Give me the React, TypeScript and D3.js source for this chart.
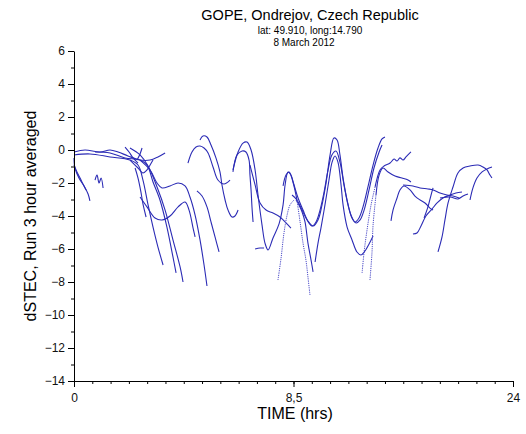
import React, { useEffect, useRef } from 'react'
import * as d3 from 'd3'

// ticks
const yMajor = [-14, -12, -10, -8, -6, -4, -2, 0, 2, 4, 6]
const yMinor = d3.range(-13, 6, 2)
const xMajor = [0, 12, 24]
const xMajorLabels = ['0', '8,5', '24']
const xMinor = d3.range(1, 24)

// satellite tracks: [time (hrs), dSTEC]
const track01 = [[0, -0.48], [0.05, -1.09], [0.27, -1.7], [0.55, -2.18], [0.77, -2.67], [0.87, -3.09]]
const track02 = [[0, -0.91], [0.16, -1.33], [0.33, -1.7], [0.49, -2.06], [0.66, -2.42]]
const track03 = [[1.15, -1.82], [1.26, -1.52], [1.37, -2.0], [1.48, -1.7], [1.59, -2.3]]
const track04 = [[0, -0.3], [0.87, -0.24], [1.97, -0.42], [3.06, -0.61], [3.5, -0.91], [3.77, -1.82], [4.05, -3.33], [4.32, -4.67], [4.59, -5.88], [4.87, -6.97]]
const track05 = [[1.15, -0.12], [1.97, -0.18], [2.79, -0.48], [3.61, -0.61], [3.99, -0.91], [4.32, -1.94], [4.7, -3.03], [5.08, -4.67], [5.41, -6.48], [5.58, -7.45]]
const track06 = [[3.06, 0.12], [3.61, -0.3], [4.05, -0.97], [4.54, -2.24], [4.98, -3.64], [5.41, -5.45], [5.8, -7.09], [5.96, -8.0]]
const track07 = [[3.61, -0.61], [4.16, -1.21], [4.54, -2.0], [4.81, -2.3], [5.25, -2.18], [5.69, -2.0], [6.07, -2.18], [6.34, -2.85], [6.62, -3.94], [6.89, -5.45], [7.11, -6.97], [7.27, -8.24]]
const track08 = [[3.61, -2.85], [3.99, -3.45], [4.43, -4.12], [4.81, -4.24], [5.25, -4.0], [5.69, -3.45], [6.07, -3.15], [6.29, -3.64], [6.51, -4.73], [6.62, -5.27]]
const track09 = [[3.34, -1.09], [3.5, -1.7], [3.66, -2.55], [3.77, -3.27], [3.94, -4.06]]
const track10 = [[6.72, -2.48], [7.0, -2.79], [7.27, -3.45], [7.49, -4.36], [7.71, -5.27], [7.93, -6.18]]
const track11 = [[0, -0.12], [0.6, 0], [1.42, -0.12], [1.97, 0], [2.41, -0.12], [2.95, -0.36], [3.61, -0.61], [4.16, -0.61], [4.59, -0.42], [4.98, -0.18]]
const track12 = [[2.79, 0.18], [3.01, -0.12], [3.23, -0.48], [3.5, -0.79]]
const track13 = [[3.45, -0.61], [3.61, -0.24], [3.72, 0.12]]
const track14 = [[3.06, -0.61], [3.5, -1.09], [3.77, -1.39], [3.99, -1.21], [4.16, -0.91], [4.32, -0.61]]
const track15 = [[6.23, -0.79], [6.45, -0.12], [6.67, 0.18], [6.89, 0.24], [7.11, 0.12], [7.33, -0.18], [7.6, -1.03], [7.87, -1.82], [8.2, -2.06], [8.53, -1.82]]
const track16 = [[9.9, -6.0], [10.17, -5.94], [10.39, -5.94]]
const track17 = [[6.89, 0.61], [7.05, 0.85], [7.27, 0.79], [7.49, 0.3], [7.76, -0.48], [7.98, -1.33], [8.09, -2.12], [8.26, -3.03], [8.42, -3.64], [8.64, -4.06], [8.8, -4.0], [8.97, -3.64]]
const track18 = [[8.69, -1.33], [8.91, -0.3], [9.19, -0.06], [9.4, -0.12], [9.57, -0.61], [9.62, -1.52], [9.68, -2.42], [9.73, -3.45], [9.79, -4.36]]
const track19 = [[9.62, -0.91], [9.9, -2.12], [10.17, -3.21], [10.5, -3.64], [10.88, -3.82], [11.26, -4.06], [11.59, -4.42], [11.86, -4.73]]
const track20 = [[8.69, -1.21], [8.97, -0.12], [9.24, 0.42], [9.46, 0.48], [9.68, 0], [9.9, -1.21], [10.06, -2.73], [10.28, -4.55], [10.44, -5.64], [10.61, -6.06], [10.88, -5.33], [11.21, -4.48], [11.43, -3.33], [11.54, -2.12], [11.7, -1.33], [11.86, -1.52], [12.03, -2.12], [12.25, -2.91], [12.52, -3.64], [12.79, -4.3], [13.07, -4.61], [13.34, -4.24], [13.56, -3.33], [13.78, -2.0], [14.0, -0.3], [14.21, 0.73], [14.38, 0.61], [14.54, -0.3], [14.71, -1.7], [14.93, -3.03], [15.14, -3.94], [15.36, -4.36], [15.58, -4.12], [15.8, -3.45], [16.07, -2.24], [16.35, -0.91], [16.62, 0.12], [16.84, 0.67], [17.0, 0.79]]
const track21 = [[11.92, -2.73], [12.19, -3.03], [12.47, -3.64], [12.74, -4.24], [13.01, -4.61], [13.23, -4.36], [13.45, -3.64], [13.67, -2.55], [13.89, -1.21], [14.1, -0.3], [14.32, -0.06], [14.54, -0.73], [14.76, -2.12], [14.98, -3.33], [15.2, -4.12], [15.42, -4.42], [15.64, -4.24], [15.86, -3.64], [16.13, -2.42], [16.4, -1.09], [16.68, -0.12], [16.84, 0.3]]
const track22 = [[11.43, -2.18], [11.59, -1.52], [11.76, -1.33], [11.97, -1.94], [12.19, -3.03], [12.36, -4.36], [12.52, -5.64], [12.68, -6.67], [12.79, -7.7], [12.9, -8.79]]
const track23 = [[12.14, -3.03], [12.3, -3.33], [12.47, -3.76], [12.63, -4.36], [12.79, -5.64], [12.96, -6.67], [13.07, -7.39]]
const track24 = [[11.15, -7.88], [11.32, -6.55], [11.48, -5.03], [11.65, -3.94], [11.81, -3.33], [12.03, -3.03]]
const track25 = [[13.18, -6.79], [13.34, -5.64], [13.5, -4.73], [13.72, -3.33], [13.94, -1.82], [14.11, -0.73], [14.27, -0.36], [14.43, -0.73], [14.6, -2.12], [14.71, -3.33], [14.93, -4.67], [15.2, -5.45], [15.47, -6.18], [15.69, -6.36], [15.91, -6.12], [16.13, -5.7], [16.35, -5.21]]
const track26 = [[15.75, -7.45], [15.86, -6.18], [16.02, -4.85], [16.24, -3.33], [16.46, -2.24], [16.73, -1.21], [16.95, -0.97], [17.28, -0.79], [17.5, -0.55], [17.66, -0.67], [17.82, -0.48], [17.99, -0.61], [18.15, -0.42], [18.42, -0.12]]
const track27 = [[16.18, -7.88], [16.29, -6.24], [16.35, -4.55], [16.51, -2.73], [16.68, -1.52], [16.89, -1.09], [17.17, -1.33], [17.55, -1.58], [17.93, -1.7], [18.26, -1.82], [18.42, -1.94]]
const track28 = [[17.99, -2.12], [18.53, -2.18], [18.92, -2.3], [19.35, -2.36], [19.63, -2.42], [20.01, -2.61], [20.39, -2.73], [20.72, -2.79], [21.05, -2.91]]
const track29 = [[17.33, -4.3], [17.44, -3.64], [17.66, -2.91], [17.82, -2.42], [18.04, -2.18], [18.37, -2.42], [18.64, -2.79], [18.92, -3.03], [19.19, -3.21], [19.46, -3.52], [19.63, -3.64]]
const track30 = [[18.53, -5.09], [18.75, -5.03], [18.97, -4.61], [19.24, -4.0], [19.57, -3.58], [19.85, -3.21], [20.17, -2.91], [20.56, -2.73], [20.88, -2.61], [21.21, -2.55]]
const track31 = [[19.14, -4.12], [19.35, -3.45], [19.52, -2.73], [19.63, -2.3]]
const track32 = [[20.01, -2.91], [20.56, -2.85], [20.99, -2.97], [21.27, -2.79], [21.54, -2.67]]
const track33 = [[19.9, -6.18], [20.12, -5.27], [20.28, -4.24], [20.45, -3.21], [20.72, -2.24], [20.99, -1.39], [21.27, -1.09], [21.65, -0.97], [22.09, -0.91], [22.36, -1.03], [22.58, -1.21], [22.74, -1.52], [22.85, -1.7]]
const track34 = [[21.65, -3.03], [21.81, -2.3], [22.03, -1.7], [22.31, -1.33], [22.58, -1.15], [22.85, -1.03]]

const tracks = [track01, track02, track03, track04, track05, track06, track07, track08, track09, track10,
  track11, track12, track13, track14, track15, track16, track17, track18, track19, track20,
  track21, track22, track23, track24, track25, track26, track27, track28, track29, track30,
  track31, track32, track33, track34]

// steep stretches that only have sparse points, so they look dotted: [track, first, last] point index
const dottedParts: [number[][], number, number][] = [
  [track22, 4, 9],
  [track24, 0, 5],
  [track26, 0, 4],
  [track27, 0, 3],
]

export default function App() {
  const ref = useRef<SVGSVGElement>(null)

  useEffect(() => {
    const width = 526
    const height = 434
    const svg = d3.select(ref.current)
    svg.selectAll('*').remove()
    svg.attr('width', width).attr('height', height)

    const x = d3.scaleLinear().domain([0, 24]).range([74, 513])
    const y = d3.scaleLinear().domain([-14, 6]).range([381, 51])
    const font = 'Liberation Sans, Arial, sans-serif'

    const line = d3.line<number[]>()
      .x(d => x(d[0]))
      .y(d => y(d[1]))
      .curve(d3.curveCatmullRom.alpha(0.5))

    // split tracks into solid and dotted pieces
    const solid: number[][][] = []
    const dotted: number[][][] = []
    tracks.forEach(t => {
      const part = dottedParts.find(p => p[0] === t)
      if (!part) { solid.push(t); return }
      const [, a, b] = part
      dotted.push(t.slice(a, b + 1))
      if (a > 0) solid.push(t.slice(0, a + 1))
      if (b < t.length - 1) solid.push(t.slice(b))
    })

    svg.append('g')
      .selectAll('path')
      .data(solid)
      .enter()
      .append('path')
      .attr('d', d => line(d))
      .attr('fill', 'none')
      .attr('stroke', '#2b2bb5')
      .attr('stroke-width', 1.1)

    svg.append('g')
      .selectAll('path')
      .data(dotted)
      .enter()
      .append('path')
      .attr('d', d => line(d))
      .attr('fill', 'none')
      .attr('stroke', '#4a4ac8')
      .attr('stroke-width', 1)
      .attr('stroke-dasharray', '1.2,1')

    // y axis
    const yAxis = svg.append('g').attr('transform', 'translate(74,0)')
    yAxis.call(d3.axisLeft(y).tickValues(yMajor).tickSize(6).tickSizeOuter(0).tickPadding(3))
    yAxis.append('g').call(d3.axisLeft(y).tickValues(yMinor).tickSize(3).tickFormat(() => ''))
      .select('.domain').remove()

    // x axis
    const xAxis = svg.append('g').attr('transform', 'translate(0,381)')
    xAxis.call(d3.axisBottom(x).tickValues(xMajor).tickSize(6).tickSizeOuter(0).tickPadding(6)
      .tickFormat((d, i) => xMajorLabels[i]))
    xAxis.append('g').call(d3.axisBottom(x).tickValues(xMinor).tickSize(3).tickFormat(() => ''))
      .select('.domain').remove()

    svg.selectAll('.tick text')
      .attr('font-family', font)
      .attr('font-size', 12)
      .attr('fill', '#111')

    // titles
    svg.append('text')
      .attr('x', 310).attr('y', 20)
      .attr('text-anchor', 'middle')
      .attr('font-family', font).attr('font-size', 14.5)
      .text('GOPE, Ondrejov, Czech Republic')
    svg.append('text')
      .attr('x', 310).attr('y', 34)
      .attr('text-anchor', 'middle')
      .attr('font-family', font).attr('font-size', 10)
      .text('lat: 49.910, long:14.790')
    svg.append('text')
      .attr('x', 304).attr('y', 46)
      .attr('text-anchor', 'middle')
      .attr('font-family', font).attr('font-size', 10)
      .text('8 March 2012')

    svg.append('text')
      .attr('x', 295).attr('y', 419)
      .attr('text-anchor', 'middle')
      .attr('font-family', font).attr('font-size', 16)
      .text('TIME (hrs)')
    svg.append('text')
      .attr('transform', 'translate(36,216) rotate(-90)')
      .attr('text-anchor', 'middle')
      .attr('font-family', font).attr('font-size', 16)
      .text('dSTEC, Run 3 hour averaged')
  }, [])

  return (
    <div style={{ position: 'absolute', left: 0, top: 0 }}>
      <svg ref={ref}></svg>
    </div>
  )
}
